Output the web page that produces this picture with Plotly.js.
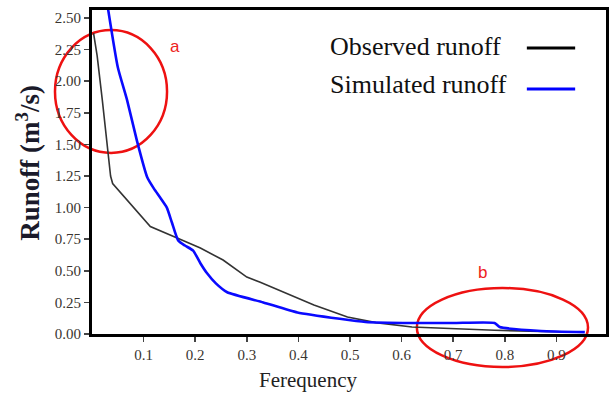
<!DOCTYPE html>
<html>
<head>
<meta charset="utf-8">
<script src="https://cdn.plot.ly/plotly-3.0.1.min.js"></script>
<style>
html,body{margin:0;padding:0;background:#fff;}
#chart{width:612px;height:407px;}
</style>
</head>
<body>
<div id="chart"></div>
<script>
// Observed runoff (flow duration curve)
var obsFreq   = [0.003, 0.010, 0.020, 0.030, 0.036, 0.040, 0.068, 0.113, 0.165, 0.210, 0.254, 0.300, 0.326, 0.378, 0.430, 0.495, 0.550, 0.620, 0.700, 0.780, 0.870, 0.950];
var obsRunoff = [2.38, 2.20, 1.85, 1.45, 1.25, 1.19, 1.06, 0.85, 0.76, 0.68, 0.585, 0.45, 0.41, 0.32, 0.23, 0.135, 0.09, 0.055, 0.04, 0.03, 0.02, 0.015];
// Simulated runoff
var simFreq   = [0.030, 0.050, 0.068, 0.087, 0.107, 0.120, 0.132, 0.145, 0.155, 0.167, 0.180, 0.196, 0.210, 0.223, 0.240, 0.262, 0.332, 0.398, 0.480, 0.530, 0.620, 0.700, 0.780, 0.790, 0.870, 0.955];
var simRunoff = [2.60, 2.11, 1.85, 1.53, 1.24, 1.15, 1.08, 1.00, 0.88, 0.74, 0.70, 0.66, 0.56, 0.48, 0.40, 0.33, 0.25, 0.17, 0.12, 0.095, 0.087, 0.087, 0.087, 0.055, 0.024, 0.015];
var xTicks = [0.1, 0.2, 0.3, 0.4, 0.5, 0.6, 0.7, 0.8, 0.9];
var xTickLabels = ["0.1", "0.2", "0.3", "0.4", "0.5", "0.6", "0.7", "0.8", "0.9"];
var yTicks = [0, 0.25, 0.5, 0.75, 1, 1.25, 1.5, 1.75, 2, 2.25, 2.5];
var yTickLabels = ["0.00", "0.25", "0.50", "0.75", "1.00", "1.25", "1.50", "1.75", "2.00", "2.25", "2.50"];
var seriesNames = ["Observed runoff", "Simulated runoff"];
var markLabels = ["a", "b"];
var xTitle = "Ferequency";
var yTitle = "<b>Runoff (m<sup>3</sup>/s)</b>";

var serif = "Liberation Serif, Times New Roman, serif";

var traces = [
  {x: obsFreq, y: obsRunoff, type: "scatter", mode: "lines", name: seriesNames[0],
   line: {color: "#333333", width: 1.6}, showlegend: false},
  {x: simFreq, y: simRunoff, type: "scatter", mode: "lines", name: seriesNames[1],
   line: {color: "#0a0aff", width: 2.6, shape: "spline", smoothing: 0.5}, showlegend: false}
];

var layout = {
  width: 612, height: 407,
  margin: {l: 92, r: 6, t: 10, b: 73},
  font: {family: serif, color: "#333333"},
  showlegend: false,
  xaxis: {
    range: [0, 0.996], tickvals: xTicks, ticktext: xTickLabels,
    showgrid: false, zeroline: false, showline: true, linecolor: "black", linewidth: 3, mirror: true,
    ticks: "outside", ticklen: 5, tickcolor: "#444", tickwidth: 1.5,
    tickfont: {family: serif, size: 15, color: "#3a3530"}
  },
  yaxis: {
    range: [0, 2.563], tickvals: yTicks, ticktext: yTickLabels,
    showgrid: false, zeroline: false, showline: true, linecolor: "black", linewidth: 3, mirror: true,
    ticks: "outside", ticklen: 5, tickcolor: "#444", tickwidth: 1.5,
    tickfont: {family: serif, size: 15, color: "#3a3530"}
  },
  shapes: [
    {type: "circle", xref: "paper", yref: "paper", x0: -0.072, x1: 0.146, y0: 0.559, y1: 0.938,
     line: {color: "#ee1111", width: 2.5}, fillcolor: "rgba(0,0,0,0)", layer: "below"},
    {type: "circle", xref: "paper", yref: "paper", x0: 0.632, x1: 0.965, y0: -0.102, y1: 0.142,
     line: {color: "#ee1111", width: 2.5}, fillcolor: "rgba(0,0,0,0)", layer: "below"},
    {type: "line", xref: "paper", yref: "paper", x0: 0.846, x1: 0.940, y0: 0.883, y1: 0.883,
     line: {color: "black", width: 3}},
    {type: "line", xref: "paper", yref: "paper", x0: 0.846, x1: 0.940, y0: 0.756, y1: 0.756,
     line: {color: "blue", width: 3}}
  ],
  annotations: [
    {xref: "paper", yref: "paper", x: 0.42, y: -0.142, xanchor: "center", yanchor: "middle", showarrow: false,
     text: xTitle, font: {family: serif, size: 21, color: "#222"}},
    {xref: "paper", yref: "paper", x: -0.125, y: 0.528, xanchor: "center", yanchor: "middle", showarrow: false,
     textangle: -90, text: yTitle, font: {family: serif, size: 27, color: "#1a1a2a"}},
    {xref: "paper", yref: "paper", x: 0.459, y: 0.886, xanchor: "left", yanchor: "middle", showarrow: false,
     text: seriesNames[0], font: {family: serif, size: 26, color: "#111"}},
    {xref: "paper", yref: "paper", x: 0.459, y: 0.77, xanchor: "left", yanchor: "middle", showarrow: false,
     text: seriesNames[1], font: {family: serif, size: 26, color: "#111"}},
    {xref: "paper", yref: "paper", x: 0.161, y: 0.886, xanchor: "center", yanchor: "middle", showarrow: false,
     text: markLabels[0], font: {family: "Liberation Sans, Arial, sans-serif", size: 17, color: "#ee2222"}},
    {xref: "paper", yref: "paper", x: 0.759, y: 0.19, xanchor: "center", yanchor: "middle", showarrow: false,
     text: markLabels[1], font: {family: "Liberation Sans, Arial, sans-serif", size: 17, color: "#ee2222"}}
  ]
};

Plotly.newPlot("chart", traces, layout, {staticPlot: true});
</script>
</body>
</html>
